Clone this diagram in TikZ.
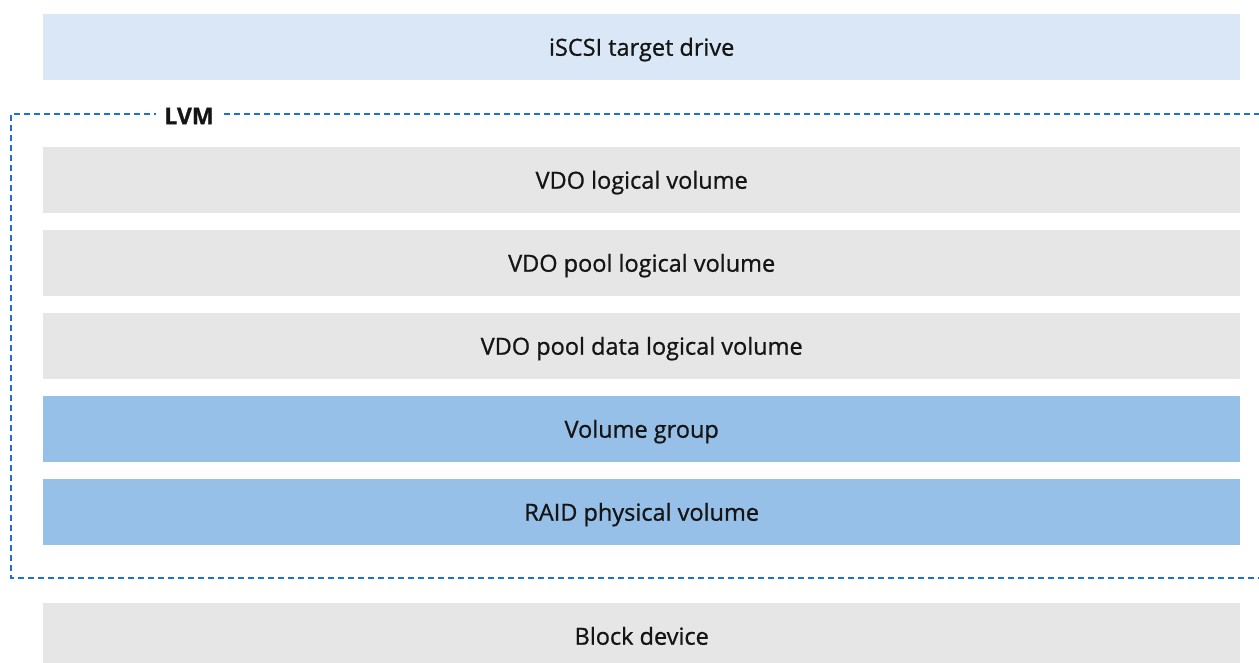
\documentclass[tikz,border=0pt]{standalone}
\usepackage{fontspec}
\setmainfont{Open Sans}[FakeBold=0.9]
\newfontfamily\medfont{Open Sans}[FakeBold=0.9]
\definecolor{lightblue}{HTML}{D9E7F6}
\definecolor{lgray}{HTML}{E6E6E6}
\definecolor{midblue}{HTML}{97C0E8}
\definecolor{dashblue}{HTML}{1F70D6}
\definecolor{txt}{HTML}{151515}
\begin{document}
\begin{tikzpicture}[x=1pt,y=-1pt,
  layer/.style={minimum width=1197pt, minimum height=66pt, inner sep=0pt, text height=19.5pt, text depth=2.5pt, anchor=north west, font=\medfont\fontsize{23.5}{27}\selectfont, text=txt},
  grayl/.style={layer, fill=lgray},
  bluel/.style={layer, fill=midblue},
  lightl/.style={layer, fill=lightblue}]
\useasboundingbox (0,0) rectangle (1259,662);
\draw[dashblue, line width=1.4pt, dash pattern=on 6pt off 4pt] (1270,114) -- (11,114) -- (11,578) -- (1270,578);
\node[fill=white, inner sep=8pt, font=\fontsize{23}{27}\selectfont\bfseries, text=txt] (lvm) at (189,116) {LVM};
\node[lightl] (iscsi) at (43,14) {iSCSI target drive};
\node[grayl] (vdolv) at (43,147) {VDO logical volume};
\node[grayl] (vdopool) at (43,230) {VDO pool logical volume};
\node[grayl] (vdodata) at (43,313) {VDO pool data logical volume};
\node[bluel] (vg) at (43,396) {Volume group};
\node[bluel] (raid) at (43,479) {RAID physical volume};
\node[grayl] (block) at (43,603) {Block device};
\end{tikzpicture}
\end{document}
